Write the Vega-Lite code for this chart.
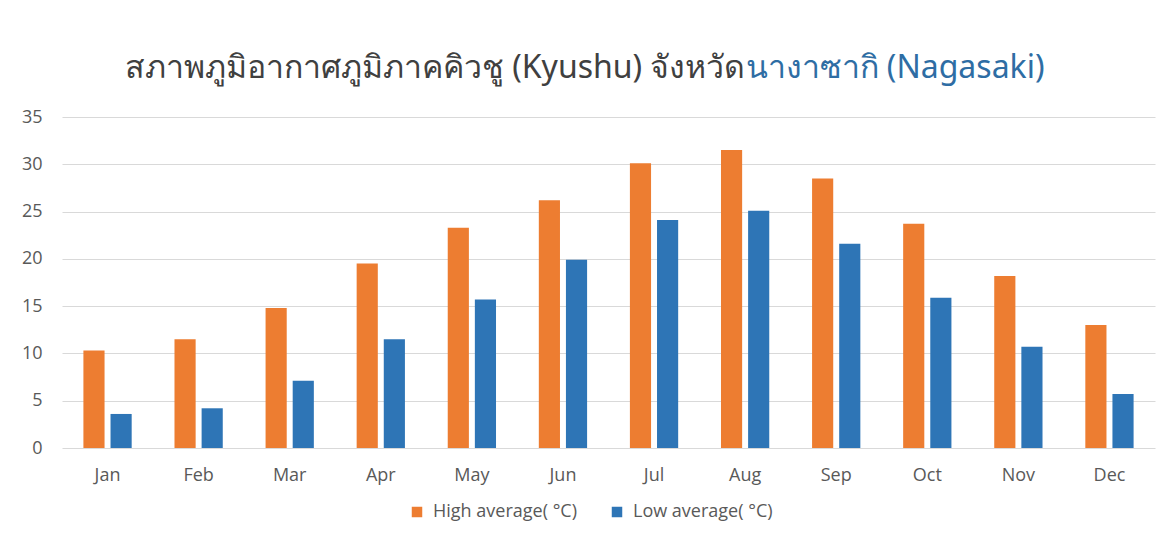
{
  "$schema": "https://vega.github.io/schema/vega-lite/v6.json",
  "width": 1093,
  "height": 331,
  "autosize": "none",
  "padding": {"left": 62, "top": 117, "right": 8, "bottom": 89},
  "background": "white",
  "config": {"view": {"stroke": null}},
  "data": {
    "values": [
      {"month": "Jan", "series": "High average( °C)", "temp": 10.3},
      {"month": "Jan", "series": "Low average( °C)", "temp": 3.6},
      {"month": "Feb", "series": "High average( °C)", "temp": 11.5},
      {"month": "Feb", "series": "Low average( °C)", "temp": 4.2},
      {"month": "Mar", "series": "High average( °C)", "temp": 14.8},
      {"month": "Mar", "series": "Low average( °C)", "temp": 7.1},
      {"month": "Apr", "series": "High average( °C)", "temp": 19.5},
      {"month": "Apr", "series": "Low average( °C)", "temp": 11.5},
      {"month": "May", "series": "High average( °C)", "temp": 23.3},
      {"month": "May", "series": "Low average( °C)", "temp": 15.7},
      {"month": "Jun", "series": "High average( °C)", "temp": 26.2},
      {"month": "Jun", "series": "Low average( °C)", "temp": 19.9},
      {"month": "Jul", "series": "High average( °C)", "temp": 30.1},
      {"month": "Jul", "series": "Low average( °C)", "temp": 24.1},
      {"month": "Aug", "series": "High average( °C)", "temp": 31.5},
      {"month": "Aug", "series": "Low average( °C)", "temp": 25.1},
      {"month": "Sep", "series": "High average( °C)", "temp": 28.5},
      {"month": "Sep", "series": "Low average( °C)", "temp": 21.6},
      {"month": "Oct", "series": "High average( °C)", "temp": 23.7},
      {"month": "Oct", "series": "Low average( °C)", "temp": 15.9},
      {"month": "Nov", "series": "High average( °C)", "temp": 18.2},
      {"month": "Nov", "series": "Low average( °C)", "temp": 10.7},
      {"month": "Dec", "series": "High average( °C)", "temp": 13.0},
      {"month": "Dec", "series": "Low average( °C)", "temp": 5.7}
    ]
  },
  "mark": {"type": "bar"},
  "encoding": {
    "x": {
      "field": "month",
      "type": "nominal",
      "sort": ["Jan", "Feb", "Mar", "Apr", "May", "Jun", "Jul", "Aug", "Sep", "Oct", "Nov", "Dec"],
      "scale": {"paddingInner": 0.47, "paddingOuter": 0.235},
      "axis": {
        "title": "นางาซากิ (Nagasaki)",
        "titleX": 683,
        "titleY": -371,
        "titleAlign": "left",
        "titleAnchor": null,
        "titleBaseline": "alphabetic",
        "titleFont": "Noto Sans",
        "titleFontSize": 32,
        "titleFontWeight": "normal",
        "titleColor": "#2E6DA4",
        "labelAngle": 0,
        "ticks": false,
        "domain": false,
        "labelPadding": 18,
        "labelFont": "Open Sans",
        "labelFontSize": 18,
        "labelColor": "#595959"
      }
    },
    "xOffset": {
      "field": "series",
      "sort": ["High average( °C)", "Low average( °C)"],
      "scale": {"paddingInner": 0.22}
    },
    "y": {
      "field": "temp",
      "type": "quantitative",
      "scale": {"domain": [0, 35]},
      "axis": {
        "values": [0, 5, 10, 15, 20, 25, 30, 35],
        "title": "สภาพภูมิอากาศภูมิภาคคิวชู (Kyushu) จังหวัด",
        "titleAngle": 0,
        "titleX": 683,
        "titleY": -40,
        "titleAlign": "right",
        "titleAnchor": null,
        "titleBaseline": "alphabetic",
        "titleFont": "Noto Sans",
        "titleFontSize": 32,
        "titleFontWeight": "normal",
        "titleColor": "#404040",
        "domain": false,
        "ticks": false,
        "labelPadding": 20,
        "labelFont": "Open Sans",
        "labelFontSize": 18,
        "labelColor": "#595959",
        "gridColor": "#D9D9D9",
        "gridWidth": 1
      }
    },
    "color": {
      "field": "series",
      "type": "nominal",
      "scale": {"domain": ["High average( °C)", "Low average( °C)"], "range": ["#ED7D31", "#2E75B6"]},
      "legend": {
        "orient": "none",
        "legendX": 346,
        "legendY": 386,
        "padding": 0,
        "direction": "horizontal",
        "title": null,
        "symbolType": "square",
        "symbolSize": 110,
        "symbolStrokeWidth": 0,
        "labelOffset": 7,
        "labelFont": "Open Sans",
        "labelFontSize": 18,
        "labelColor": "#595959",
        "columnPadding": 31
      }
    }
  }
}
